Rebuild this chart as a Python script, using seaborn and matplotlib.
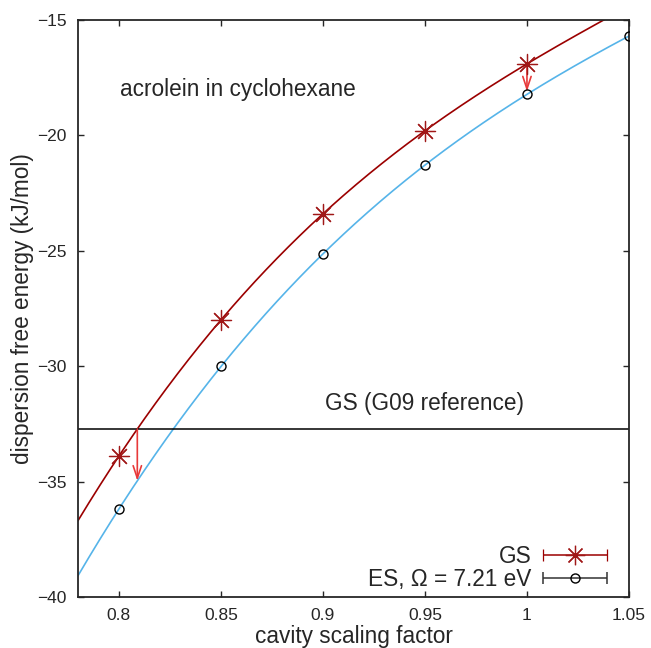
import numpy as np
import pandas as pd
import matplotlib
matplotlib.use("Agg")
import matplotlib.pyplot as plt
from matplotlib.legend_handler import HandlerErrorbar
from matplotlib.container import ErrorbarContainer
import seaborn as sns

# ---- data ----
gs_scale = [0.80, 0.85, 0.90, 0.95, 1.00]
gs_energy = [-33.9, -28.0, -23.4, -19.8, -16.9]

es_scale = [0.80, 0.85, 0.90, 0.95, 1.00, 1.05]
es_energy = [-36.2, -30.0, -25.15, -21.3, -18.2, -15.7]

g09_reference = -32.72

x_ticks = [0.8, 0.85, 0.9, 0.95, 1.0, 1.05]
x_ticklabels = ["0.8", "0.85", "0.9", "0.95", "1", "1.05"]
y_ticks = [-40, -35, -30, -25, -20, -15]

red_line = "#9b0000"
red_pt = "#a01818"
blue_line = "#56b4e9"
arrow_col = "#e8393a"

sns.set_style("ticks")
plt.rcParams["font.family"] = ["Liberation Sans", "DejaVu Sans"]
plt.rcParams["axes.unicode_minus"] = True

gs = pd.DataFrame({"scale": gs_scale, "energy": gs_energy})
es = pd.DataFrame({"scale": es_scale, "energy": es_energy})

# smooth fits through the points
gs_fit = np.polyfit(gs["scale"], gs["energy"], 3)
es_fit = np.polyfit(es["scale"], es["energy"], 3)
xs = np.linspace(0.78, 1.05, 300)
fits = pd.DataFrame({"scale": xs,
                     "gs": np.polyval(gs_fit, xs),
                     "es": np.polyval(es_fit, xs)})

fig = plt.figure(figsize=(6.51, 6.48), dpi=100)
ax = fig.add_axes([0.1198, 0.0787, 0.8464, 0.8904])

sns.lineplot(data=fits, x="scale", y="gs", color=red_line, lw=1.2, ax=ax, legend=False)
sns.lineplot(data=fits, x="scale", y="es", color=blue_line, lw=1.2, ax=ax, legend=False)

ax.axhline(g09_reference, color="black", lw=1.1)

sns.scatterplot(data=gs, x="scale", y="energy", marker=(8, 2, 0), s=210,
                color=red_pt, edgecolor=red_pt, linewidth=0.9, ax=ax,
                legend=False, zorder=5)
ax.plot(es["scale"], es["energy"], "o", ms=6.5, mfc="none", mec="black",
        mew=1.0, zorder=5)

# arrows: crossing with G09 reference, and at scale 1.0
roots = np.roots(gs_fit - np.array([0, 0, 0, g09_reference]))
x_cross = [r.real for r in roots if abs(r.imag) < 1e-9 and 0.78 < r.real < 0.85][0]
ax.annotate("", xy=(x_cross, np.polyval(es_fit, x_cross)),
            xytext=(x_cross, g09_reference),
            arrowprops=dict(arrowstyle="->,head_length=0.9,head_width=0.3",
                            color=arrow_col, lw=1.2, shrinkA=0, shrinkB=0))
ax.annotate("", xy=(gs_scale[-1], es_energy[4] + 0.1),
            xytext=(gs_scale[-1], gs_energy[-1]),
            arrowprops=dict(arrowstyle="->,head_length=0.9,head_width=0.3",
                            color=arrow_col, lw=1.2, shrinkA=0, shrinkB=0))

ax.text(0.8006, -18.03, "acrolein in cyclohexane", fontsize=16.3, va="center")
ax.text(0.9496, -31.6, "GS (G09 reference)", fontsize=16.3, va="center", ha="center")

# legend proxies (errorbar style as in the original), drawn with nan data
h1 = ax.errorbar([np.nan], [np.nan], xerr=[0.01], marker=(8, 2, 0), ls="none",
                 ms=14, color=red_pt, ecolor=red_line, elinewidth=1.1,
                 capsize=4, capthick=1.1, mew=0.9, label="GS")
h2 = ax.errorbar([np.nan], [np.nan], xerr=[0.01], marker="o", ls="none", ms=6.5,
                 mfc="none", mec="black", ecolor="#333333", elinewidth=1.1,
                 capsize=4, capthick=1.1, label="ES, Ω = 7.21 eV")
ax.legend(handles=[h1, h2], loc="lower right", bbox_to_anchor=(0.978, 0.0),
          frameon=False, markerfirst=False,
          fontsize=16.3, handlelength=3.2, labelspacing=0.0,
          borderaxespad=0.1, handletextpad=0.32, borderpad=0.15,
          handler_map={ErrorbarContainer: HandlerErrorbar(xerr_size=1.4)})

ax.set_xlim(0.78, 1.05)
ax.set_ylim(-40, -15)
ax.set_xticks(x_ticks)
ax.set_xticklabels(x_ticklabels)
ax.set_yticks(y_ticks)
ax.tick_params(direction="in", length=4.5, width=1, top=True, right=True,
               labelsize=12.5, pad=8)
for s in ax.spines.values():
    s.set_linewidth(1.3)
    s.set_visible(True)

ax.set_xlabel("cavity scaling factor", fontsize=16.3, labelpad=1)
ax.set_ylabel("dispersion free energy (kJ/mol)", fontsize=16.3, labelpad=2)

fig.savefig("out.png", dpi=100)
